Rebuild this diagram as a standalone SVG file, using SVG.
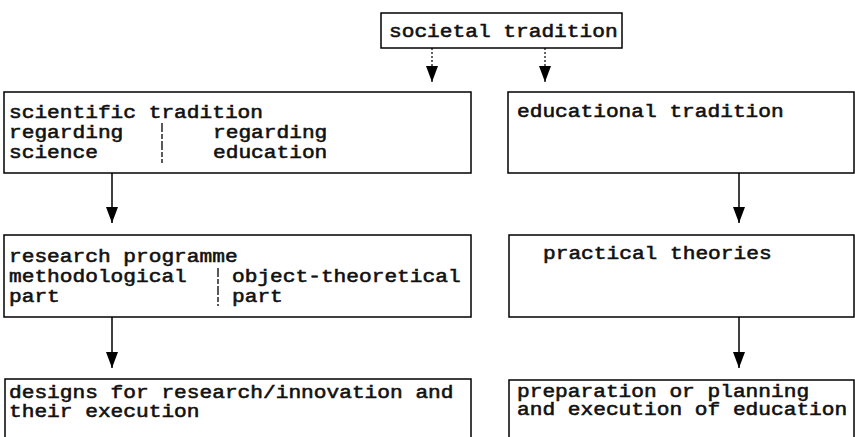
<svg xmlns="http://www.w3.org/2000/svg" width="855" height="437" viewBox="0 0 855 437">
  <style>
    .box { fill: none; stroke: #000; stroke-width: 1.5; }
    .t { font-family: "Liberation Mono", "Courier New", monospace; font-size: 18px; fill: #111; stroke: #111; stroke-width: 0.55; }
    .sep { stroke: #000; stroke-width: 1.3; stroke-dasharray: 9 2 5 2; }
    .edge { stroke: #000; stroke-width: 1.5; fill: none; }
    .edge.dotted { stroke-width: 1.2; stroke-dasharray: 2 2; }
  </style>
  <defs>
    <marker id="arrow" markerUnits="userSpaceOnUse" markerWidth="16" markerHeight="12" viewBox="0 0 16 12" refX="16" refY="6" orient="auto">
      <path d="M0,0 L16,6 L0,12 Z" fill="#000"/>
    </marker>
  </defs>
  <rect width="855" height="437" fill="#fff"/>

  <g id="connectors">
    <line class="edge dotted" x1="432" y1="48" x2="432" y2="82" marker-end="url(#arrow)"/>
    <line class="edge dotted" x1="545" y1="48" x2="545" y2="82" marker-end="url(#arrow)"/>
    <line class="edge" x1="112" y1="173" x2="112" y2="223" marker-end="url(#arrow)"/>
    <line class="edge" x1="739" y1="173" x2="739" y2="223" marker-end="url(#arrow)"/>
    <line class="edge" x1="112" y1="317" x2="112" y2="368" marker-end="url(#arrow)"/>
    <line class="edge" x1="739" y1="317" x2="739" y2="368" marker-end="url(#arrow)"/>
  </g>

  <g id="societal-tradition">
    <rect class="box" x="381" y="13" width="241" height="35"/>
    <text class="t" x="389" y="37" textLength="228.6" lengthAdjust="spacingAndGlyphs">societal tradition</text>
  </g>

  <g id="scientific-tradition">
    <rect class="box" x="4" y="92" width="467" height="81"/>
    <text class="t" x="9" y="118" textLength="254" lengthAdjust="spacingAndGlyphs">scientific tradition</text>
    <text class="t" x="9" y="138" textLength="114.3" lengthAdjust="spacingAndGlyphs">regarding</text>
    <text class="t" x="9" y="158" textLength="88.9" lengthAdjust="spacingAndGlyphs">science</text>
    <line class="sep" x1="162" y1="123" x2="162" y2="163"/>
    <text class="t" x="213" y="138" textLength="114.3" lengthAdjust="spacingAndGlyphs">regarding</text>
    <text class="t" x="213" y="158" textLength="114.3" lengthAdjust="spacingAndGlyphs">education</text>
  </g>

  <g id="educational-tradition">
    <rect class="box" x="508" y="92" width="346" height="81"/>
    <text class="t" x="517" y="117" textLength="266.7" lengthAdjust="spacingAndGlyphs">educational tradition</text>
  </g>

  <g id="research-programme">
    <rect class="box" x="4" y="235" width="467" height="82"/>
    <text class="t" x="9" y="262" textLength="228.6" lengthAdjust="spacingAndGlyphs">research programme</text>
    <text class="t" x="9" y="282" textLength="177.8" lengthAdjust="spacingAndGlyphs">methodological</text>
    <text class="t" x="9" y="302" textLength="50.8" lengthAdjust="spacingAndGlyphs">part</text>
    <line class="sep" x1="218" y1="268" x2="218" y2="306"/>
    <text class="t" x="232" y="282" textLength="228.6" lengthAdjust="spacingAndGlyphs">object-theoretical</text>
    <text class="t" x="232" y="302" textLength="50.8" lengthAdjust="spacingAndGlyphs">part</text>
  </g>

  <g id="practical-theories">
    <rect class="box" x="509" y="235" width="345" height="82"/>
    <text class="t" x="543" y="259" textLength="228.6" lengthAdjust="spacingAndGlyphs">practical theories</text>
  </g>

  <g id="research-designs">
    <rect class="box" x="5" y="379" width="466" height="70"/>
    <text class="t" x="9" y="398" textLength="444.5" lengthAdjust="spacingAndGlyphs">designs for research/innovation and</text>
    <text class="t" x="9" y="417" textLength="190.5" lengthAdjust="spacingAndGlyphs">their execution</text>
  </g>

  <g id="education-planning">
    <rect class="box" x="509" y="380" width="345" height="70"/>
    <text class="t" x="517" y="397" textLength="292.1" lengthAdjust="spacingAndGlyphs">preparation or planning</text>
    <text class="t" x="517" y="415" textLength="330.2" lengthAdjust="spacingAndGlyphs">and execution of education</text>
  </g>
</svg>
